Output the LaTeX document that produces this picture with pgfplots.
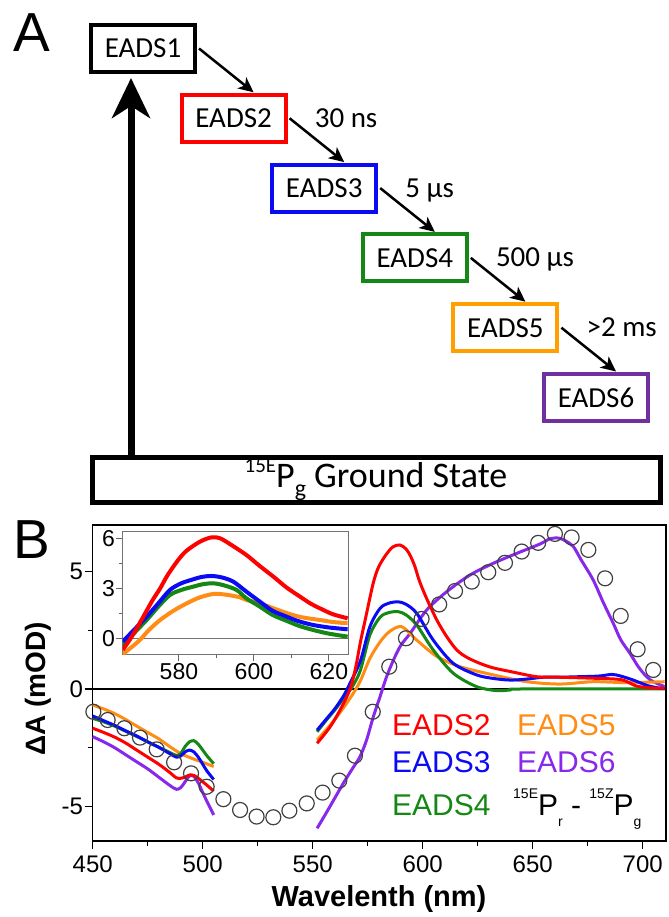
\documentclass[border=0pt]{standalone}
\usepackage{fontspec}
\setmainfont{Liberation Sans}
\newfontfamily\calibri{Carlito}
\usepackage{pgfplots}
\pgfplotsset{compat=1.18}
\usetikzlibrary{arrows.meta}
\definecolor{cRed}{RGB}{255,0,0}
\definecolor{cBlue}{RGB}{10,10,245}
\definecolor{cGreen}{RGB}{20,135,20}
\definecolor{cOrange}{RGB}{255,140,20}
\definecolor{cPurple}{RGB}{135,40,235}
\definecolor{bOrange}{RGB}{255,160,0}
\definecolor{bPurple}{RGB}{112,48,160}
\newcommand\sups[1]{\raisebox{17bp}{\fontsize{14bp}{15bp}\selectfont #1}}
\newcommand\subs[1]{\raisebox{-11bp}{\fontsize{14bp}{15bp}\selectfont #1}}
\pgfplotsset{
  spec/.style={line width=3bp,line join=round,smooth,tension=0.5},
  ispec/.style={line width=4bp,line join=round,smooth,tension=0.5},
}
\begin{document}
\begin{tikzpicture}
\path[use as bounding box] (0,0) rectangle (669bp,917bp);

% ---- panel A: kinetic scheme
\node[font=\fontsize{55bp}{60bp}\selectfont] at (31.5bp,884bp) {A};
\node[font=\fontsize{55bp}{60bp}\selectfont] at (32bp,377bp) {B};

\draw[line width=7bp,-{Stealth[length=40bp,width=38bp,inset=12bp]}] (131bp,462bp) -- (131bp,839bp);

\begin{scope}[font=\calibri\fontsize{29bp}{34bp}\selectfont]
\foreach \i/\c in {1/black,2/cRed,3/cBlue,4/cGreen,5/bOrange,6/bPurple}{
  \pgfmathsetmacro\cx{143+90.6*(\i-1)}
  \pgfmathsetmacro\cy{868.5-69.8*(\i-1)}
  \node[draw=\c,line width=4bp,fill=white,minimum width=104bp,minimum height=47bp,inner sep=0pt] at (\cx bp,\cy bp) {EADS\i};
}
\foreach \i in {1,...,5}{
  \pgfmathsetmacro\xa{143+90.6*(\i-1)+56}
  \pgfmathsetmacro\ya{868.5-69.8*(\i-1)}
  \pgfmathsetmacro\xb{143+90.6*\i+20}
  \pgfmathsetmacro\yb{868.5-69.8*\i+26}
  \draw[line width=2.5bp,-{Stealth[length=15bp,width=14bp,inset=4bp]}] (\xa bp,\ya bp) -- (\xb bp,\yb bp);
}
\node[anchor=base west,inner sep=0pt] at (314.6bp,789.7bp) {30 ns};
\node[anchor=base west,inner sep=0pt] at (405.2bp,719.9bp) {5 µs};
\node[anchor=base west,inner sep=0pt] at (495.8bp,650.1bp) {500 µs};
\node[anchor=base west,inner sep=0pt] at (586.4bp,580.3bp) {>2 ms};
\node[draw,line width=5bp,minimum width=568bp,minimum height=45bp,inner sep=0pt] at (376.5bp,437bp) {};
\node[anchor=base,inner sep=0pt,font=\calibri\fontsize{36bp}{40bp}\selectfont] at (376bp,429bp)
  {\raisebox{15bp}{\fontsize{21bp}{22bp}\selectfont 15E}P\raisebox{-9bp}{\fontsize{24bp}{26bp}\selectfont g} Ground State};
\end{scope}

% ---- panel B: main axis
\begin{axis}[at={(92.7bp,76bp)},anchor=south west,scale only axis,
  width=573.3bp,height=316bp,
  xmin=450,xmax=710.6,ymin=-6.47,ymax=6.98,
  xtick={450,500,...,700},ytick={-5,0,5},
  minor x tick num=1,minor y tick num=1,
  tick pos=left,tick align=outside,
  major tick length=8bp,minor tick length=5bp,
  every tick/.style={black,line width=1.2bp},
  axis line style={line width=1.3bp},
  ticklabel style={font=\fontsize{24bp}{28bp}\selectfont},
  xticklabel style={yshift=-3bp},
  yticklabel style={inner xsep=1.5bp},
  /pgf/number format/assume math mode=true,
  clip=false]
\addplot[black,line width=1.2bp] coordinates {(450,0)(710.6,0)};
% EADS6
\addplot[spec,cPurple] coordinates {(450,-2.03)(455,-2.25)(460,-2.5)(465,-2.8)(470,-3.1)(475,-3.4)(480,-3.75)(485,-4.1)(488,-4.27)(490,-4.2)(492,-3.95)(494,-3.7)(496,-3.72)(498,-4.0)(500,-4.4)(502,-4.8)(505,-5.36)};
\addplot[spec,cPurple] coordinates {(552,-5.93)(556,-5.3)(560,-4.65)(564,-4.0)(568,-3.4)(571.5,-2.88)(574.5,-2.17)(577.5,-1.2)(580.6,-0.33)(583.5,0.5)(586.7,1.23)(590,1.85)(594.3,2.37)(601.8,3.36)(610.9,4.14)(621.5,4.85)(632.1,5.35)(642.7,5.77)(653.3,6.17)(658,6.4)(662,6.42)(665,6.3)(668.5,6.06)(672,5.5)(677.5,4.64)(682,3.7)(686.6,2.8)(690,2.1)(694.2,1.52)(698,0.95)(701.8,0.52)(705,0.3)(710,0.1)};
% EADS5
\addplot[spec,cOrange] coordinates {(450,-0.68)(455,-0.85)(460,-1.05)(465,-1.3)(470,-1.58)(475,-1.85)(480,-2.12)(485,-2.45)(490,-2.75)(495,-2.95)(500,-3.12)(505,-3.3)};
\addplot[spec,cOrange] coordinates {(552,-2.17)(556,-1.75)(560,-1.3)(564,-0.8)(568,-0.25)(571.7,0.35)(576,1.3)(580.6,2.0)(585,2.45)(590.5,2.65)(597.3,2.08)(606.4,1.39)(617,0.95)(632.1,0.6)(647.3,0.31)(662.4,0.21)(677.5,0.31)(692.7,0.27)(710,0.31)};
% EADS4
\addplot[spec,cGreen] coordinates {(450,-1.25)(455,-1.4)(460,-1.58)(465,-1.8)(470,-2.02)(475,-2.25)(480,-2.48)(485,-2.7)(488,-2.83)(490,-2.75)(492,-2.45)(494,-2.25)(496,-2.2)(498,-2.35)(500,-2.6)(502,-2.85)(505,-3.18)};
\addplot[spec,cGreen] coordinates {(552,-1.82)(556,-1.35)(560,-0.9)(564,-0.4)(568,0.1)(571.7,0.8)(576,2.3)(580.6,3.05)(584.5,3.25)(588.9,3.29)(592.5,3.15)(597.3,2.72)(604.8,1.66)(613.9,0.67)(624.5,0.1)(633.6,-0.07)(640,-0.04)(645,0)(710,0)};
% EADS3
\addplot[spec,cBlue] coordinates {(450,-1.15)(455,-1.35)(460,-1.55)(465,-1.78)(470,-2.0)(475,-2.25)(480,-2.48)(485,-2.75)(488,-2.9)(490,-2.85)(492,-2.68)(494,-2.6)(496,-2.68)(498,-2.9)(500,-3.2)(502,-3.5)(505,-3.85)};
\addplot[spec,cBlue] coordinates {(552,-1.75)(556,-1.3)(560,-0.85)(564,-0.3)(567,0.25)(571.7,1.2)(576,2.65)(580.6,3.43)(584.5,3.65)(588.9,3.71)(592.5,3.6)(597.3,3.22)(604.8,2.08)(613.9,1.09)(624.5,0.6)(632,0.45)(639.7,0.38)(647,0.42)(654.8,0.5)(662,0.5)(670,0.52)(680,0.55)(686,0.62)(690,0.55)(695.7,0.38)(702,0.15)(707.9,0.03)(710,0.02)};
% EADS2
\addplot[spec,cRed] coordinates {(450,-1.67)(455,-1.85)(460,-2.05)(465,-2.3)(470,-2.6)(475,-2.9)(480,-3.2)(485,-3.55)(488,-3.78)(490,-3.8)(492,-3.75)(494,-3.66)(496,-3.68)(498,-3.8)(500,-3.95)(502,-4.1)(505,-4.35)};
\addplot[spec,cRed] coordinates {(552,-2.31)(558,-1.6)(563,-0.8)(567,0.0)(569.5,0.9)(571.7,2.0)(574,3.0)(577.5,4.5)(580,5.2)(583.6,5.75)(586.5,6.05)(589.7,6.13)(592.5,5.95)(594.5,5.65)(596.5,5.2)(598.5,4.6)(601.8,3.85)(606.4,2.94)(610.9,2.23)(615.5,1.66)(620,1.35)(626,1.09)(632,0.9)(640,0.74)(652,0.52)(662,0.5)(677,0.46)(688,0.42)(692,0.35)(697,0.13)(703,0.05)(710,0.03)};
% 15E Pr - 15Z Pg difference spectrum
\addplot[only marks,mark=o,mark size=7.5bp,mark options={draw=black!75,line width=1.2bp}] coordinates {
(450.3,-0.97)(456.8,-1.32)(464.4,-1.67)(471.5,-2.07)(479.1,-2.57)(487.0,-3.12)(494.7,-3.59)(501.8,-4.16)(509.4,-4.69)(517.0,-5.15)(524.5,-5.43)(532.1,-5.46)(539.4,-5.18)(547.3,-4.87)(554.5,-4.41)(562.1,-3.90)(569.2,-2.84)(577.3,-0.97)(584.8,0.95)(592.4,2.16)(599.5,2.98)(607.5,3.60)(614.7,4.17)(622.3,4.57)(629.8,4.97)(637.4,5.37)(645.0,5.85)(652.5,6.22)(660.1,6.60)(667.7,6.45)(675.3,5.92)(682.9,4.71)(690.0,3.11)(697.7,1.69)(704.8,0.81)};
\end{axis}

\node[anchor=base,font=\fontsize{29bp}{34bp}\selectfont\bfseries] at (379bp,11bp) {Wavelenth (nm)};
\node[anchor=base,rotate=90,font=\fontsize{28bp}{34bp}\selectfont\bfseries] at (45bp,228bp) {ΔA (mOD)};

\begin{scope}[font=\fontsize{30bp}{34bp}\selectfont]
\node[anchor=base west,inner sep=0pt,text=cRed] at (392bp,181bp) {EADS2};
\node[anchor=base west,inner sep=0pt,text=cBlue] at (392bp,144bp) {EADS3};
\node[anchor=base west,inner sep=0pt,text=cGreen] at (392bp,101bp) {EADS4};
\node[anchor=base west,inner sep=0pt,text=cOrange] at (517bp,181bp) {EADS5};
\node[anchor=base west,inner sep=0pt,text=cPurple] at (517bp,144bp) {EADS6};
\node[anchor=base west,inner sep=0pt] at (513bp,101bp) {\sups{15E}P\subs{r} - \sups{15Z}P\subs{g}};
\end{scope}

% ---- inset
\begin{axis}[at={(122.7bp,262.7bp)},anchor=south west,scale only axis,
  width=225.3bp,height=123.3bp,
  xmin=565,xmax=625.1,ymin=-0.96,ymax=6.44,
  xtick={580,600,620},ytick={0,3,6},
  minor x tick num=1,minor y tick num=1,
  tick pos=left,tick align=outside,
  major tick length=7bp,minor tick length=4bp,
  every tick/.style={black!60,line width=1bp},
  axis line style={black!55,line width=1bp},
  axis background/.style={fill=white},
  ticklabel style={font=\fontsize{23bp}{27bp}\selectfont},
  xticklabel style={inner ysep=2bp},
  yticklabel style={inner xsep=0.5bp},
  /pgf/number format/assume math mode=true]
\addplot[black!55,line width=1bp] coordinates {(565,0)(625.1,0)};
\addplot[ispec,cOrange] coordinates {(565,-0.96)(567,-0.6)(569.6,-0.1)(572,0.5)(575,1.1)(578.5,1.65)(582.1,2.1)(585.5,2.45)(589.2,2.66)(592.5,2.62)(596.3,2.46)(598,2.3)(601.6,2.1)(605.2,1.8)(608.7,1.52)(612,1.3)(615,1.18)(617.6,1.1)(621,0.98)(625,0.9)};
\addplot[ispec,cGreen] coordinates {(565,-0.46)(568,0.3)(571.4,1.1)(574.5,1.9)(577.6,2.6)(580.6,2.9)(583.8,3.1)(586.5,3.25)(589.2,3.3)(592,3.18)(595.4,2.9)(598,2.4)(601.6,1.9)(605,1.4)(608.7,1.05)(612,0.75)(615.8,0.5)(620,0.28)(625,0.1)};
\addplot[ispec,cBlue] coordinates {(565,-0.2)(568,0.5)(571.4,1.3)(574.5,2.1)(577.6,2.9)(580.6,3.3)(583.8,3.54)(586,3.68)(588.7,3.74)(591.5,3.65)(594.5,3.4)(598,2.8)(601.6,2.2)(605,1.65)(608.7,1.3)(612,1.02)(615.8,0.8)(620,0.65)(625,0.54)};
\addplot[ispec,cRed] coordinates {(565,-0.7)(567,-0.05)(569,0.7)(571,1.5)(573,2.3)(575,3.0)(577,3.8)(579.8,4.7)(582,5.25)(585.6,5.8)(588.7,6.06)(591,6.0)(594,5.6)(598,5.0)(601.5,4.35)(605.2,3.7)(608.7,3.05)(612.3,2.5)(615,2.1)(617.6,1.8)(621,1.45)(625,1.2)};
\end{axis}
\end{tikzpicture}
\end{document}
